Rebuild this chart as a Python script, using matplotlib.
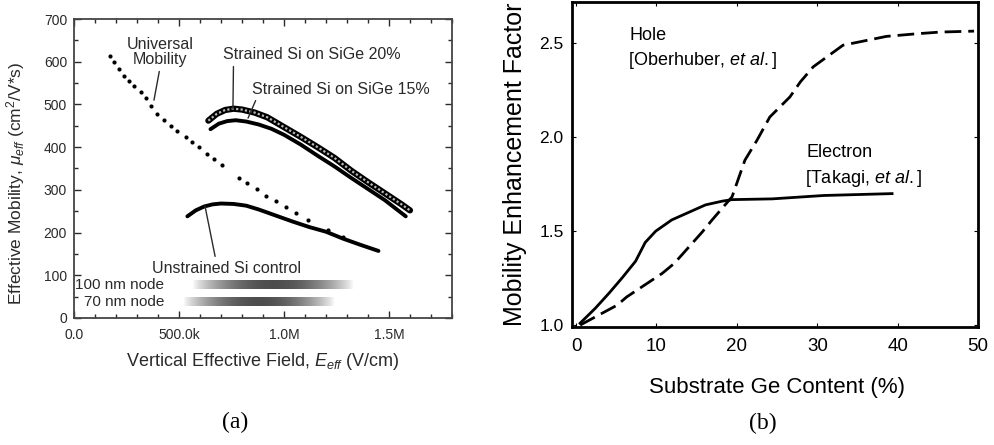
import numpy as np
import matplotlib.pyplot as plt

plt.rcParams['font.family'] = ['Liberation Sans', 'DejaVu Sans']
plt.rcParams['mathtext.fontset'] = 'custom'
plt.rcParams['mathtext.rm'] = 'Liberation Sans'
plt.rcParams['mathtext.it'] = 'Liberation Sans:italic'

# (a) effective mobility vs vertical field (field in MV/cm)
univ_E = [0.171, 0.190, 0.214, 0.238, 0.262, 0.286, 0.318, 0.341, 0.368, 0.397,
          0.429, 0.460, 0.492, 0.532, 0.563, 0.595, 0.635, 0.667, 0.706, 0.786,
          0.825, 0.870, 0.914, 0.960, 1.008, 1.057, 1.116, 1.211, 1.279]
univ_mu = [614, 600, 583, 567, 556, 544, 528, 514, 497, 478,
           464, 450, 438, 423, 411, 400, 384, 372, 358, 327,
           315, 302, 286, 274, 261, 245, 229, 206, 190]

sige20_E = [0.64, 0.68, 0.72, 0.76, 0.80, 0.86, 0.92, 1.00, 1.08, 1.16, 1.24, 1.32, 1.40, 1.48, 1.56, 1.60]
sige20_mu = [462, 478, 487, 490, 488, 481, 470, 447, 424, 400, 375, 345, 318, 292, 266, 252]

sige15_E = [0.65, 0.69, 0.73, 0.77, 0.82, 0.88, 0.94, 1.00, 1.08, 1.16, 1.24, 1.32, 1.40, 1.48, 1.58]
sige15_mu = [442, 455, 461, 463, 460, 453, 443, 429, 406, 380, 355, 328, 302, 276, 238]

unstr_E = [0.54, 0.58, 0.62, 0.66, 0.70, 0.76, 0.82, 0.88, 0.96, 1.04, 1.12, 1.20, 1.28, 1.36, 1.45]
unstr_mu = [238, 252, 261, 266, 268, 267, 263, 254, 240, 226, 213, 202, 186, 172, 157]

# operating ranges of the nodes: (label, E start, E end, mu low, mu high)
nodes = ['100 nm node', '70 nm node']
node_E0 = [0.56, 0.52]
node_E1 = [1.33, 1.24]
node_lo = [67, 27]
node_hi = [88, 48]
node_y = [77, 37]

# (b) mobility enhancement vs Ge content
elec_ge = [0.5, 2.4, 4.1, 5.7, 7.4, 8.6, 9.9, 11.9, 14.0, 16.1, 18.2, 19.4, 24.4, 30.8, 39.3]
elec_f = [1.01, 1.09, 1.17, 1.25, 1.34, 1.44, 1.50, 1.56, 1.60, 1.64, 1.66, 1.668, 1.672, 1.69, 1.70]

hole_ge = [0.5, 5.1, 6.3, 10.7, 12.2, 15.7, 16.9, 19.4, 21.0, 22.5, 24.1, 26.6, 27.9, 29.5,
           31.2, 33.2, 36.2, 38.6, 42.4, 45.3, 49.5]
hole_f = [1.0, 1.106, 1.15, 1.275, 1.328, 1.496, 1.559, 1.683, 1.878, 1.984, 2.108, 2.215, 2.295, 2.375,
          2.428, 2.49, 2.516, 2.537, 2.551, 2.56, 2.565]

fig = plt.figure(figsize=(9.94, 4.45), dpi=100)
ax1 = fig.add_axes([0.0744, 0.2854, 0.3803, 0.6719])
ax2 = fig.add_axes([0.5755, 0.2652, 0.4085, 0.7303])

tc = '#2a2a2a'

# ---- panel (a)
ax1.plot(univ_E, univ_mu, 'o', color='black', ms=3, mec='none')
ax1.plot(sige20_E, sige20_mu, color='black', lw=4.5, solid_capstyle='round')
ax1.plot(sige20_E, sige20_mu, color='#b8b8b8', lw=1.6, ls=(0, (1, 1)))
ax1.plot(sige15_E, sige15_mu, color='black', lw=2.8, solid_capstyle='round')
ax1.plot(unstr_E, unstr_mu, color='black', lw=2.8, solid_capstyle='round')

# shaded node bands
prof = np.sin(np.linspace(0, np.pi, 200)) ** 0.8
for name, e0, e1, lo, hi, yc in zip(nodes, node_E0, node_E1, node_lo, node_hi, node_y):
    rgba = np.zeros((6, 200, 4))
    rgba[..., 3] = prof * 0.7
    ax1.imshow(rgba, extent=[e0, e1, lo, hi], aspect='auto', interpolation='bilinear', zorder=1)
    ax1.text(0.429, yc, name, ha='right', va='center', fontsize=11, color=tc)

fs = 11.5
ax1.annotate('Universal\nMobility', xy=(0.381, 510), xytext=(0.41, 622), ha='center', va='center',
             fontsize=fs, color=tc, linespacing=1.0,
             arrowprops=dict(arrowstyle='-', color=tc, lw=1, relpos=(0.5, 0), shrinkA=1, shrinkB=0))
ax1.annotate('Strained Si on SiGe 20%', xy=(0.757, 489), xytext=(0.709, 616), ha='left', va='center',
             fontsize=fs, color=tc,
             arrowprops=dict(arrowstyle='-', color=tc, lw=1, relpos=(0.06, 0), shrinkA=1, shrinkB=0))
ax1.annotate('Strained Si on SiGe 15%', xy=(0.829, 468), xytext=(0.848, 536), ha='left', va='center',
             fontsize=fs, color=tc,
             arrowprops=dict(arrowstyle='-', color=tc, lw=1, relpos=(0.03, 0), shrinkA=1, shrinkB=0))
ax1.annotate('Unstrained Si control', xy=(0.624, 262), xytext=(0.371, 117), ha='left', va='center',
             fontsize=fs, color=tc,
             arrowprops=dict(arrowstyle='-', color=tc, lw=1, relpos=(0.43, 1), shrinkA=1, shrinkB=0))

ax1.set_xlim(0, 1.8)
ax1.set_ylim(0, 700)
ax1.set_xticks([0, 0.5, 1.0, 1.5])
ax1.set_xticklabels(['0.0', '500.0k', '1.0M', '1.5M'])
ax1.set_xticks(np.arange(0, 1.81, 0.1), minor=True)
ax1.set_yticks(range(0, 701, 100))
ax1.set_yticks(range(0, 701, 50), minor=True)
ax1.tick_params(which='both', direction='in', top=True, right=True, colors=tc, labelsize=10, width=1)
ax1.tick_params(which='major', length=5)
ax1.tick_params(which='minor', length=3)
ax1.tick_params(axis='x', pad=7)
ax1.tick_params(axis='y', pad=5)
for s in ax1.spines.values():
    s.set_color('#444444')
    s.set_linewidth(1.3)
ax1.set_xlabel(r'Vertical Effective Field, $E_{eff}$ (V/cm)', fontsize=13, color=tc)
ax1.set_ylabel(r'Effective Mobility, $\mu_{eff}$ (cm$^2$/V*s)', fontsize=12.5, color=tc)
ax1.xaxis.set_label_coords(0.5, -0.112)
ax1.yaxis.set_label_coords(-0.124, 0.45)

# ---- panel (b)
ax2.plot(elec_ge, elec_f, color='black', lw=2)
ax2.plot(hole_ge, hole_f, color='black', lw=2, dashes=(6, 2.5))
ax2.text(6.7, 2.54, 'Hole', fontsize=13, va='center')
ax2.text(6.5, 2.41, r'[Oberhuber, $\mathit{et\ al.}$]', fontsize=13, va='center')
ax2.text(28.7, 1.92, 'Electron', fontsize=13, va='center')
ax2.text(28.5, 1.78, r'[Takagi, $\mathit{et\ al.}$]', fontsize=13, va='center')

ax2.set_xlim(-0.5, 50)
ax2.set_ylim(0.99, 2.72)
ax2.set_xticks([0, 10, 20, 30, 40, 50])
ax2.set_yticks([1.0, 1.5, 2.0, 2.5])
ax2.set_yticklabels(['1.0', '1.5', '2.0', '2.5'])
ax2.tick_params(axis='x', labelsize=13.5, direction='in', top=True, length=3, pad=8)
ax2.tick_params(axis='y', labelsize=12.5, direction='in', right=True, length=3, pad=6)
for s in ax2.spines.values():
    s.set_linewidth(2)
ax2.set_xlabel('Substrate Ge Content (%)', fontsize=16)
ax2.set_ylabel('Mobility Enhancement Factor', fontsize=18)
ax2.xaxis.set_label_coords(0.505, -0.155)
ax2.yaxis.set_label_coords(-0.111, 0.5)

fig.text(235 / 994, 1 - 422 / 445, '(a)', fontsize=17, family='Liberation Serif', ha='center', va='center')
fig.text(763 / 994, 1 - 423 / 445, '(b)', fontsize=17, family='Liberation Serif', ha='center', va='center')

fig.savefig('out.png', dpi=100)
